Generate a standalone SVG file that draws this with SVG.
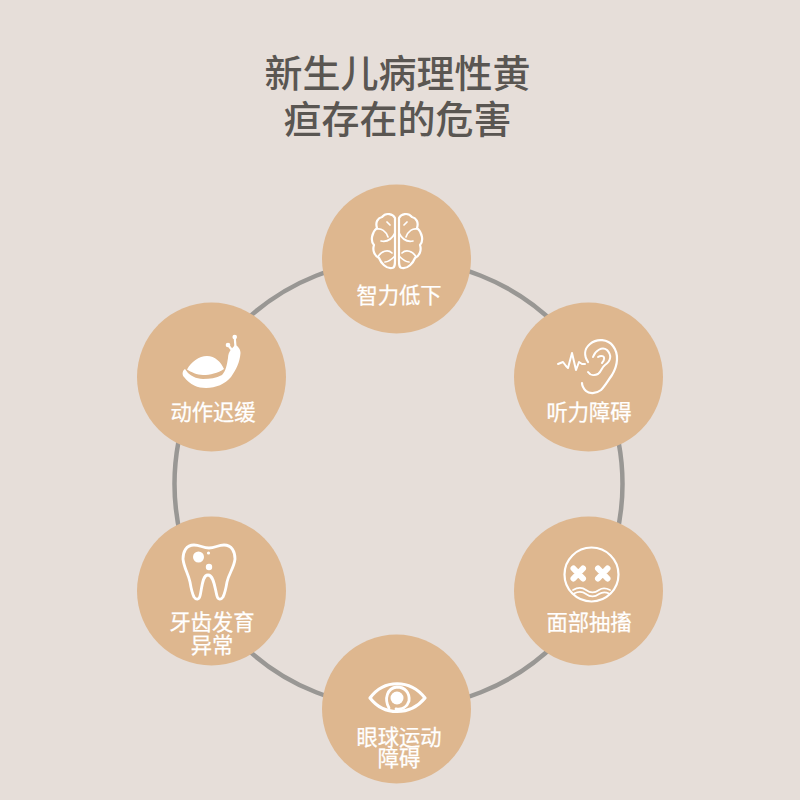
<svg xmlns="http://www.w3.org/2000/svg" width="800" height="800" viewBox="0 0 800 800">
<defs>
<g id="half-brain">
<path class="i" d="M395 218C393 214 386 212 382 217C378 218 375 222 377 228C372 232 370 241 374 245C372 251 375 256 379 258C381 263 386 269 392 268C395 268 395 264 395 260Z"/>
<path class="i" style="stroke-width:1.700" d="M387 222L390 225M377 229C381 228 386 231 388 237M381 241C386 242 391 241 395 233M378 257C381 251 388 249 392 253M395 256C391 260 388 262 385 262"/>
</g>
</defs>
<style>
text{font-family:"Noto Sans CJK SC","Liberation Sans",sans-serif;text-anchor:middle}
.t{font-size:38px;fill:#5a5652;font-weight:500}
.l{font-size:21.3px;fill:#fff;font-weight:400;stroke:#fff;stroke-width:.25}
.c{fill:#deb78f}
.i{fill:none;stroke:#fff;stroke-width:2.200;stroke-linecap:round;stroke-linejoin:round}
.f{fill:#fff}
</style>
<rect width="800" height="800" fill="#e6ded9"/>
<g id="title"><text class="t" x="397.500" y="87">新生儿病理性黄</text><text class="t" x="397.500" y="133">疸存在的危害</text></g>
<g id="connectors"><circle cx="398.500" cy="484" r="224" fill="none" stroke="#999794" stroke-width="4.500"/></g>
<g id="node-brain"><circle class="c" cx="396.500" cy="259" r="74.500"/>
<use href="#half-brain"/><use href="#half-brain" transform="translate(794 0) scale(-1 1)"/>
<text class="l" x="399" y="303">智力低下</text></g>
<g id="node-ear"><circle class="c" cx="588.500" cy="377" r="74.500"/>
<path class="i" d="M588 362C584 356 584 349 590 344C597 338 608 339 613 346C619 354 618 365 612 375C607 382 605 386 601 390C596 394 589 394 586 391C583 388 582 386 582 383"/>
<path class="i" style="stroke-width:2" d="M593 357C595 351 602 346 607 350C612 355 611 361 605 365C601 368 602 371 598 374C594 376 590 375 588 372M598 357C601 355 605 356 604 359C604 361 603 362 602 363M558 364L563 362L566 366L568 368L572 353L576 370L579 362L582 364L585 364"/>
<text class="l" x="589" y="420">听力障碍</text></g>
<g id="node-face"><circle class="c" cx="588.500" cy="591" r="74.500"/>
<circle class="i" cx="591.500" cy="574.500" r="27"/>
<path class="i" style="stroke-width:6" d="M573.500 568.500L583 578.500M583 568.500L573.500 578.500M598 568.500L607.500 578.500M607.500 568.500L598 578.500"/>
<path class="i" style="stroke-width:1.700" d="M573 590C578 587 582 587 586 590C590 593 595 593 599 590C602 588 606 588 610 590M574 593.500C579 591 582 591 586 594C590 597 595 597 599 594C602 592 606 592 609 593.500"/>
<text class="l" x="589" y="630">面部抽搐</text></g>
<g id="node-eye"><circle class="c" cx="396.500" cy="709" r="74.500"/>
<path class="i" style="stroke-width:3.200" d="M370 698C384 679 410 679 425 698C410 716 384 716 370 698Z"/>
<path class="i" style="stroke-width:2.800" d="M389 708C384 699 387 688 397 687C405 687 410 693 409 701C407 707 402 710 396 709"/>
<circle class="f" cx="397" cy="698" r="6.500"/>
<text class="l" x="399" y="745">眼球运动</text><text class="l" x="399" y="766">障碍</text></g>
<g id="node-tooth"><circle class="c" cx="211.500" cy="591" r="74.500"/>
<path class="i" style="stroke-width:2.800" d="M194 545C186 545 183 552 183 559C184 568 188 573 190 582C191 588 192 593 194 597C196 600 199 600 200 596C202 589 202 575 208 575C214 575 215 589 217 596C218 600 221 600 223 597C225 593 226 588 227 582C229 573 234 568 235 559C235 552 232 545 224 545C218 545 215 548 209 548C203 548 200 545 194 545Z"/>
<circle class="f" cx="198.500" cy="557" r="5.500"/><circle class="f" cx="209" cy="567" r="3.200"/><circle class="f" cx="208.500" cy="553" r="1.600"/>
<text class="l" x="212" y="630">牙齿发育</text><text class="l" x="212" y="653">异常</text></g>
<g id="node-snail"><circle class="c" cx="211.500" cy="377" r="74.500"/>
<path class="f" d="M187 369.500C191 362 199 356 207 356C215 356 221 362 224 369C218 373 210 375 203 375C197 375 191 372 187 369.500ZM185 369C182 371 182 375 184 377C190 385 198 388 206 388C216 388 225 384 231 377C236 370 240 362 240.500 353C240.500 349 238 346 235 345L231 349.500C229 352 228 355 228 358C227 364 226 371 222 375C216 378 210 379 203 379C196 379 190 375 188 373Z"/>
<path class="i" d="M235.500 347L234.700 337M232 350L228 345"/><circle class="f" cx="234.700" cy="337" r="2.300"/><circle class="f" cx="228" cy="345" r="2.300"/>
<text class="l" x="213" y="420">动作迟缓</text></g>
</svg>
